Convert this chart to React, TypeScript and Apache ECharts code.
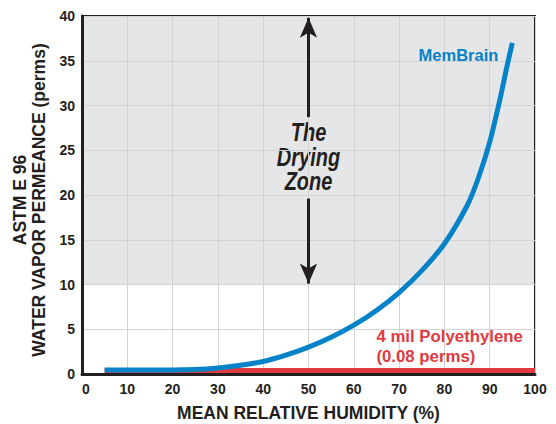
import React, { useEffect, useRef } from "react";
import * as echarts from "echarts";

const humidity = [5, 10, 15, 20, 25, 30, 35, 40, 45, 50, 55, 60, 65, 70, 75, 80, 85, 87.5, 90, 92, 94, 95];
const memBrain = [0.45, 0.45, 0.45, 0.45, 0.5, 0.68, 0.98, 1.4, 2.1, 3.0, 4.1, 5.45, 7.1, 9.1, 11.55, 14.55, 18.8, 21.9, 25.9, 30.1, 34.8, 37];
const polyX = [5, 100];
const polyY = [0.4, 0.4];
const dryingZone = [10, 40];
const xTicks = { min: 0, max: 100, interval: 10 };
const yTicks = { min: 0, max: 40, interval: 5 };

const FONT = "'Liberation Sans', Arial, Helvetica, sans-serif";
const DARK = "#231f20";
const BLUE = "#0682c8";
const RED = "#e03a3e";

export default function App() {
  const ref = useRef<HTMLDivElement>(null);
  useEffect(() => {
    if (!ref.current) return;
    const chart = echarts.init(ref.current, null, { renderer: "svg" });
    chart.setOption({
      animation: false,
      grid: {
        left: 82,
        right: 21,
        top: 16,
        bottom: 50,
        show: true,
        borderColor: DARK,
        borderWidth: 2,
        backgroundColor: "transparent",
        outerBoundsMode: "none",
        containLabel: false,
      },
      xAxis: {
        type: "value",
        min: xTicks.min,
        max: xTicks.max,
        interval: xTicks.interval,
        name: "MEAN RELATIVE HUMIDITY (%)",
        nameLocation: "middle",
        nameGap: 30,
        nameTextStyle: { fontFamily: FONT, fontWeight: "bold", fontSize: 17.5, color: DARK },
        axisLine: { lineStyle: { color: DARK, width: 3 } },
        axisTick: { show: false },
        axisLabel: { fontFamily: FONT, fontWeight: "bold", fontSize: 14, color: DARK, margin: 8, alignMinLabel: "left" },
        splitLine: { lineStyle: { color: "#d3d3d3", width: 1 } },
      },
      yAxis: {
        type: "value",
        min: yTicks.min,
        max: yTicks.max,
        interval: yTicks.interval,
        axisLine: { show: true, lineStyle: { color: DARK, width: 3 } },
        axisTick: { show: false },
        axisLabel: { fontFamily: FONT, fontWeight: "bold", fontSize: 14, color: DARK, margin: 7 },
        splitLine: { lineStyle: { color: "#d3d3d3", width: 1 } },
      },
      graphic: [
        {
          id: "t1",
          type: "text",
          x: 20,
          y: 200,
          rotation: Math.PI / 2,
          style: { text: "ASTM E 96", fontFamily: FONT, fontWeight: "bold", fontSize: 17.5, fill: DARK, align: "center", verticalAlign: "middle" },
        },
        {
          id: "t2",
          type: "text",
          x: 39,
          y: 200,
          rotation: Math.PI / 2,
          style: { text: "WATER VAPOR PERMEANCE (perms)", fontFamily: FONT, fontWeight: "bold", fontSize: 17.5, fill: DARK, align: "center", verticalAlign: "middle" },
        },
      ],
      series: [
        {
          type: "line",
          name: "zone",
          data: [],
          z: -1,
          markArea: {
            silent: true,
            z: -1,
            itemStyle: { color: "rgba(170,173,180,0.3)" },
            data: [[{ coord: [xTicks.min, dryingZone[0]] }, { coord: [xTicks.max, dryingZone[1]] }]],
          },
          markLine: {
            silent: true,
            symbol: ["none", "arrow"],
            symbolSize: [13, 20],
            lineStyle: { color: DARK, width: 3, type: "solid" },
            label: { show: false },
            data: [
              [{ coord: [50, 28.7] }, { coord: [50, 39.8] }],
              [{ coord: [50, 19.6] }, { coord: [50, 10.1] }],
            ],
          },
          markPoint: {
            silent: true,
            symbol: "circle",
            symbolSize: 0,
            data: [
              {
                coord: [83.1, 35.6],
                label: {
                  show: true,
                  formatter: "MemBrain",
                  fontFamily: FONT,
                  fontWeight: "bold",
                  fontSize: 16.5,
                  color: BLUE,
                  align: "center",
                  verticalAlign: "middle",
                  position: "inside",
                },
              },
              {
                coord: [65, 3.05],
                label: {
                  show: true,
                  formatter: "4 mil Polyethylene\n(0.08 perms)",
                  fontFamily: FONT,
                  fontWeight: "bold",
                  fontSize: 16.8,
                  lineHeight: 20,
                  color: RED,
                  align: "left",
                  verticalAlign: "middle",
                  position: "inside",
                },
              },
            ],
          },
        },
        {
          type: "line",
          name: "4 mil Polyethylene",
          data: polyX.map((x, i) => [x, polyY[i]]),
          symbol: "none",
          lineStyle: { color: RED, width: 5 },
          z: 3,
        },
        {
          type: "line",
          name: "MemBrain",
          data: humidity.map((x, i) => [x, memBrain[i]]),
          symbol: "none",
          smooth: 0.3,
          lineStyle: { color: BLUE, width: 5, cap: "butt" },
          z: 4,
        },
      ],
    });
    const p = chart.convertToPixel({ xAxisIndex: 0, yAxisIndex: 0 }, [50, 24.2]) as number[];
    chart.setOption({
      graphic: [
        { id: "t1" },
        { id: "t2" },
        {
          id: "dz",
          type: "text",
          x: p[0],
          y: p[1],
          scaleX: 0.8,
          style: {
            text: "The\nDrying\nZone",
            fontFamily: FONT,
            fontStyle: "italic",
            fontWeight: "bold",
            fontSize: 25,
            lineHeight: 24.5,
            fill: DARK,
            align: "center",
            verticalAlign: "middle",
          },
        },
      ],
    });
    return () => chart.dispose();
  }, []);
  return <div ref={ref} style={{ position: "fixed", left: 0, top: 0, width: 556, height: 424, background: "#fff" }} />;
}
